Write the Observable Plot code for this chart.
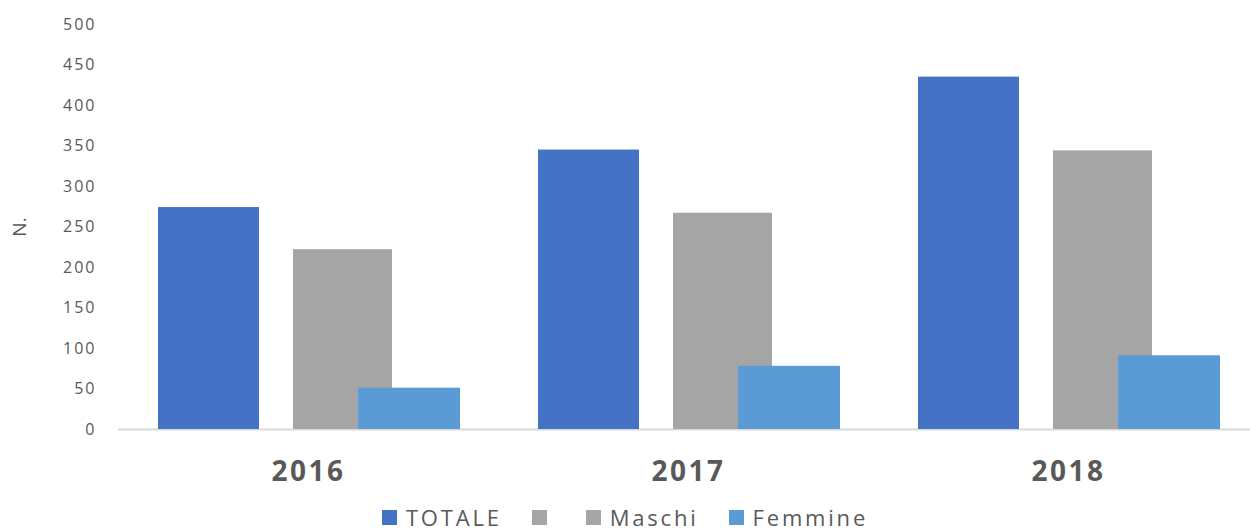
<!DOCTYPE html>
<html>
<head>
<meta charset="utf-8">
<script src="https://cdn.jsdelivr.net/npm/d3@7"></script>
<script src="https://cdn.jsdelivr.net/npm/@observablehq/plot@0.6"></script>
<style>
  html, body { margin: 0; padding: 0; background: #fff; overflow: hidden; }
  #chart svg { display: block; }
  #legend { position: absolute; left: 0; top: 503px; width: 1250px; height: 28px; line-height: 28px;
    display: flex; justify-content: center; align-items: center;
    font-family: "Open Sans", sans-serif; font-size: 22px; color: #595959; letter-spacing: 2.8px; }
  #legend .item { display: flex; align-items: center; margin: 0 15px; }
  #legend .sw { width: 15px; height: 15px; display: inline-block; }
  #legend .lab { margin-left: 9px; }
</style>
</head>
<body>
<div id="chart"></div>
<div id="legend"></div>
<script>
const years = ["2016", "2017", "2018"];
const totale = [274, 345, 435];
const maschi = [222, 267, 344];
const femmine = [51, 78, 91];
const seriesNames = ["TOTALE", "Maschi", "Femmine"];
const seriesColors = ["#4472C4", "#A5A5A5", "#5B9BD5"];
const legendLabels = ["TOTALE", "", "Maschi", "Femmine"];
const legendColors = ["#4472C4", "#A5A5A5", "#A5A5A5", "#5B9BD5"];
const yTicks = [0, 50, 100, 150, 200, 250, 300, 350, 400, 450, 500];

const seriesValues = [totale, maschi, femmine];
const rows = [];
seriesNames.forEach((s, i) => years.forEach((y, j) => rows.push({year: y, series: s, value: seriesValues[i][j]})));

// position of each series' bar inside its year band (style only)
const insets = {
  "TOTALE": {insetLeft: 40, insetRight: 239},
  "Maschi": {insetLeft: 175, insetRight: 106},
  "Femmine": {insetLeft: 240, insetRight: 38}
};

const plot = Plot.plot({
  width: 1250,
  height: 500,
  marginLeft: 118,
  marginRight: 0,
  marginTop: 24,
  marginBottom: 71,
  style: {fontFamily: "Open Sans, sans-serif", color: "#595959", background: "#fff"},
  x: {domain: years, range: [118, 1258], padding: 0, axis: null},
  y: {domain: [0, 500], axis: null},
  color: {domain: seriesNames, range: seriesColors},
  marks: [
    Plot.ruleY([0], {stroke: "#d9d9d9", strokeWidth: 2}),
    ...seriesNames.map(s => Plot.barY(rows.filter(d => d.series === s), {
      x: "year", y: "value", fill: "series", ...insets[s]
    })),
    Plot.axisY(yTicks, {tickSize: 0, tickPadding: 22, fontSize: 16, label: "N.", labelAnchor: "center", labelArrow: "none", labelOffset: 106}),
    Plot.axisX({tickSize: 0, tickPadding: 32, fontSize: 28, fontWeight: "bold", label: null})
  ]
});
document.getElementById("chart").appendChild(plot);
d3.select(plot).selectAll('g[aria-label="y-axis tick label"] text').attr("letter-spacing", "2px");
d3.select(plot).selectAll('g[aria-label="y-axis label"] text').attr("font-size", 19);
d3.select(plot).selectAll('g[aria-label="x-axis tick label"] text').attr("letter-spacing", "2.5px");

const legend = d3.select("#legend");
legendLabels.forEach((l, i) => {
  const it = legend.append("div").attr("class", "item");
  it.append("span").attr("class", "sw").style("background", legendColors[i]);
  it.append("span").attr("class", "lab").text(l);
});
</script>
</body>
</html>
